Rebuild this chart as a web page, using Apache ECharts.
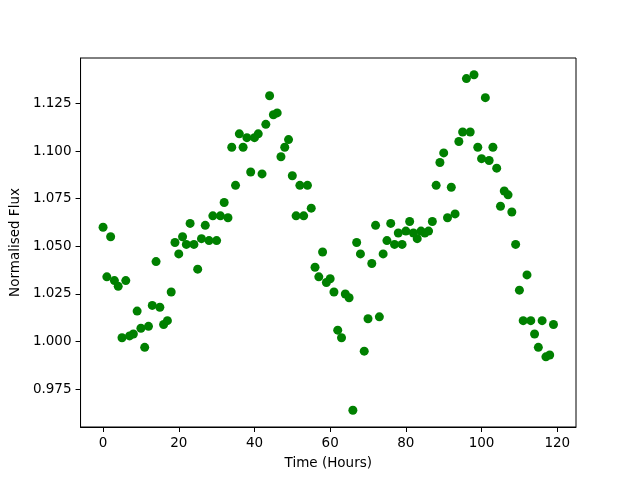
<!DOCTYPE html>
<html>
<head>
<meta charset="utf-8">
<script src="https://cdn.jsdelivr.net/npm/echarts@6/dist/echarts.min.js"></script>
<style>
  html, body { margin: 0; padding: 0; background: #fff; }
  #main { width: 640px; height: 480px; }
</style>
</head>
<body>
<div id="main"></div>
<script>
// hours 0..119, one reading per hour
const hours = [];
for (let i = 0; i < 120; i++) hours.push(i);

const flux = [
    1.060, 1.034, 1.055, 1.032, 1.029, 1.002, 1.032, 1.003, 1.004, 1.016,
    1.007, 0.997, 1.008, 1.019, 1.042, 1.018, 1.009, 1.011, 1.026, 1.052,
    1.046, 1.055, 1.051, 1.062, 1.051, 1.038, 1.054, 1.061, 1.053, 1.066,
    1.053, 1.066, 1.073, 1.065, 1.102, 1.082, 1.109, 1.102, 1.107, 1.089,
    1.107, 1.109, 1.088, 1.114, 1.129, 1.119, 1.120, 1.097, 1.102, 1.106,
    1.087, 1.066, 1.082, 1.066, 1.082, 1.070, 1.039, 1.034, 1.047, 1.031,
    1.033, 1.026, 1.006, 1.002, 1.025, 1.023, 0.964, 1.052, 1.046, 0.995,
    1.012, 1.041, 1.061, 1.013, 1.046, 1.053, 1.062, 1.051, 1.057, 1.051,
    1.058, 1.063, 1.057, 1.054, 1.058, 1.057, 1.058, 1.063, 1.082, 1.094,
    1.099, 1.065, 1.081, 1.067, 1.105, 1.110, 1.138, 1.110, 1.140, 1.102,
    1.096, 1.128, 1.095, 1.102, 1.091, 1.071, 1.079, 1.077, 1.068, 1.051,
    1.027, 1.011, 1.035, 1.011, 1.004, 0.997, 1.011, 0.992, 0.993, 1.009
];

const xTicks = [0, 20, 40, 60, 80, 100, 120];
const yTicks = [0.975, 1.000, 1.025, 1.050, 1.075, 1.100, 1.125];

var myChart = echarts.init(document.getElementById('main'));

const textStyle = { color: '#000', fontFamily: 'DejaVu Sans', fontSize: 13.5 };

var option = {
    animation: false,
    backgroundColor: '#fff',
    grid: {
        left: 80,
        right: 64,
        top: 58,
        bottom: 53,
        show: true,
        borderColor: '#000',
        borderWidth: 1
    },
    xAxis: {
        type: 'value',
        min: -5.95,
        max: 124.95,
        name: 'Time (Hours)',
        nameLocation: 'middle',
        nameGap: 29,
        nameTextStyle: textStyle,
        axisLine: { show: true, onZero: false, lineStyle: { color: '#000', width: 1 } },
        axisTick: { show: true, length: 5, customValues: xTicks, lineStyle: { color: '#000' } },
        axisLabel: Object.assign({ margin: 9, customValues: xTicks }, textStyle),
        splitLine: { show: false }
    },
    yAxis: {
        type: 'value',
        min: 0.9552,
        max: 1.1488,
        name: 'Normalised Flux',
        nameLocation: 'middle',
        nameRotate: 90,
        nameGap: 56,
        nameTextStyle: textStyle,
        axisLine: { show: true, onZero: false, lineStyle: { color: '#000', width: 1 } },
        axisTick: { show: true, length: 5, customValues: yTicks, lineStyle: { color: '#000' } },
        axisLabel: Object.assign({
            margin: 9,
            customValues: yTicks,
            formatter: (v) => v.toFixed(3)
        }, textStyle),
        splitLine: { show: false }
    },
    series: [
        {
            type: 'scatter',
            symbol: 'circle',
            symbolSize: 9,
            itemStyle: { color: '#008000', opacity: 1 },
            data: hours.map((h, i) => [h, flux[i]])
        }
    ]
};

myChart.setOption(option);
</script>
</body>
</html>
